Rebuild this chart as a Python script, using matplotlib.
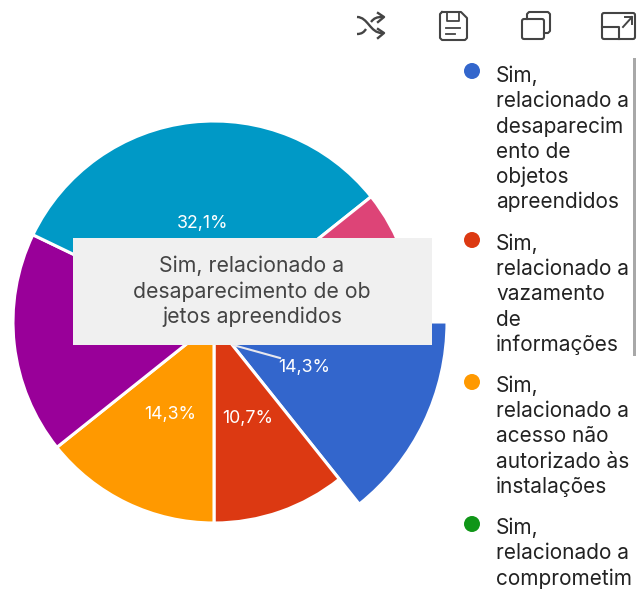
import matplotlib
matplotlib.use("Agg")
import matplotlib.pyplot as plt
from matplotlib.patches import Rectangle, FancyBboxPatch, Circle
from matplotlib.path import Path
from matplotlib.patches import PathPatch

plt.rcParams['font.family'] = ['Inter', 'DejaVu Sans']

# data (counts out of 28, they give the percentages on the chart)
values = [4, 3, 4, 5, 9, 3]
colors = ['#3366CC', '#DC3912', '#FF9900', '#990099', '#0099C6', '#DD4477']

tooltip_lines = ['Sim, relacionado a', 'desaparecimento de ob', 'jetos apreendidos']

legend_names = [
    ['Sim,', 'relacionado a', 'desaparecim', 'ento de', 'objetos', 'apreendidos'],
    ['Sim,', 'relacionado a', 'vazamento', 'de', 'informações'],
    ['Sim,', 'relacionado a', 'acesso não', 'autorizado às', 'instalações'],
    ['Sim,', 'relacionado a', 'comprometim'],
]
legend_colors = ['#3366CC', '#DC3912', '#FF9900', '#109618']

W, H = 637, 590
fig = plt.figure(figsize=(W / 100, H / 100), dpi=100, facecolor='white')

# pie, starts at 3 o'clock and goes clockwise
ax = fig.add_axes([0, 0, 1, 1])
wedges, texts, pcts = ax.pie(
    values, colors=colors, startangle=0, counterclock=False,
    center=(214, H - 322), radius=201, frame=True,
    wedgeprops={'edgecolor': 'white', 'linewidth': 2.2},
    autopct=lambda p: f'{p:.1f}%'.replace('.', ','), pctdistance=0.5,
    textprops={'color': 'white', 'fontsize': 12.8},
)
# selected slice is drawn bigger
wedges[0].set_radius(233)
# these two labels sit behind the tooltip
pcts[3].set_visible(False)
pcts[5].set_visible(False)
# labels sit a bit lower in the reference
for t in pcts:
    x, y = t.get_position()
    t.set_position((x, y - 1.5))
ax.set_xlim(0, W)
ax.set_ylim(0, H)
ax.set_aspect('auto')
ax.axis('off')

# overlay in pixel coords for tooltip, legend and icons
ov = fig.add_axes([0, 0, 1, 1])
ov.set_xlim(0, W)
ov.set_ylim(H, 0)
ov.axis('off')
ov.patch.set_alpha(0)

# tooltip
ov.plot([233, 280], [345, 358], color='#e8e8ee', lw=1.5, zorder=4)
ov.add_patch(Rectangle((73, 238), 359, 107, fc='#F0F0F0', ec='none', zorder=5))
for i, line in enumerate(tooltip_lines):
    ov.text(252, 266 + i * 25.5, line, ha='center', va='center', fontsize=15.3,
            color='#444444', zorder=6)

# legend
dot_y = [71, 240, 382, 524]
first_y = [76, 244, 386, 528]
for names, c, dy, fy in zip(legend_names, legend_colors, dot_y, first_y):
    ov.add_patch(Circle((472, dy), 8, fc=c, ec='none'))
    for i, line in enumerate(names):
        ov.text(496, fy + i * 25.2, line, ha='left', va='center', fontsize=15,
                color='#222222', clip_on=True)

# scrollbar
ov.add_patch(Rectangle((633, 58), 3, 298, fc='#a8a8a8', ec='none'))

# toolbar icons
ic = '#444444'
curve1 = Path([(357, 17), (368, 17), (370, 33), (382, 33)], [Path.MOVETO, Path.CURVE4, Path.CURVE4, Path.CURVE4])
ov.add_patch(PathPatch(curve1, fc='none', ec=ic, lw=1.7))
curve2 = Path([(357, 34), (362, 34), (364, 32), (366, 29)], [Path.MOVETO, Path.CURVE4, Path.CURVE4, Path.CURVE4])
ov.add_patch(PathPatch(curve2, fc='none', ec=ic, lw=1.7))
curve3 = Path([(371, 22), (374, 18), (377, 17), (382, 17)], [Path.MOVETO, Path.CURVE4, Path.CURVE4, Path.CURVE4])
ov.add_patch(PathPatch(curve3, fc='none', ec=ic, lw=1.7))
ov.plot([378, 384, 378], [13, 17, 22], color=ic, lw=1.7)
ov.plot([378, 384, 378], [29, 33, 38], color=ic, lw=1.7)

ov.plot([442, 461, 467, 467, 465, 442, 440, 440, 442], [12, 12, 18, 38, 40, 40, 38, 14, 12], color=ic, lw=1.5)
ov.plot([447, 447, 459, 459], [12, 21, 21, 12], color=ic, lw=1.3)
ov.plot([446, 460], [28, 28], color=ic, lw=1.3)
ov.plot([446, 455], [34, 34], color=ic, lw=1.3)

ov.add_patch(FancyBboxPatch((522, 19), 22, 20, boxstyle='round,pad=0,rounding_size=2', fc='none', ec=ic, lw=1.5))
ov.plot([527, 527, 529, 548, 550, 550, 548, 544], [19, 14, 12, 12, 14, 31, 33, 33], color=ic, lw=1.5)

ov.add_patch(FancyBboxPatch((602, 13), 33, 26, boxstyle='round,pad=0,rounding_size=2', fc='none', ec=ic, lw=1.5))
ov.plot([602, 619, 619], [27, 27, 39], color=ic, lw=1.5)
ov.plot([623, 632], [27, 17], color=ic, lw=1.4)
ov.plot([625, 632, 632], [17, 17, 24], color=ic, lw=1.4)

fig.savefig('out.png', dpi=100)
